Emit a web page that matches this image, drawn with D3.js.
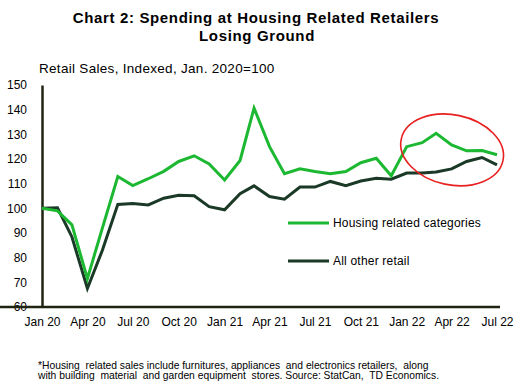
<!DOCTYPE html>
<html>
<head>
<meta charset="utf-8">
<script src="https://cdn.jsdelivr.net/npm/d3@7"></script>
<style>
  body { margin: 0; background: #fff; }
  svg { font-family: "Liberation Sans", Arial, sans-serif; }
</style>
</head>
<body>
<div id="chart"></div>
<script>
// monthly index, Jan 2020 = 100
const months = d3.timeMonths(new Date(2020, 0, 1), new Date(2022, 7, 1));
const housing = [100, 99, 93.3, 71.5, 92, 112.9, 109.2, 112, 115, 119, 121.3, 118, 111.5, 119.4, 140.6,
  125, 114, 116, 114.9, 114, 114.9, 118.5, 120.3, 113.2, 125, 126.6, 130.4, 125.7, 123.3, 123.4, 121.7];
const otherRetail = [100, 100.2, 88.4, 67.5, 83, 101.6, 102, 101.4, 104.1, 105.3, 105.1, 100.7, 99.4, 105.9, 109.1,
  104.8, 103.7, 108.6, 108.6, 110.9, 109.2, 111.1, 112.2, 111.8, 114.3, 114.3, 114.7, 116, 119, 120.6, 117.6];
const yTicks = [60, 70, 80, 90, 100, 110, 120, 130, 140, 150];
const seriesNames = ["Housing related categories", "All other retail"];

const width = 517, height = 386;
const green = "#1db832", dark = "#1a3926";

const svg = d3.select("#chart").append("svg")
  .attr("width", width)
  .attr("height", height);

const x = d3.scaleTime()
  .domain([months[0], months[months.length - 1]])
  .range([42, 497]);
const y = d3.scaleLinear().domain([60, 150]).range([307, 85]);

// titles
svg.append("text").attr("x", 256).attr("y", 23).attr("text-anchor", "middle")
  .style("font-size", "15px").style("font-weight", "bold").style("letter-spacing", "0.65px")
  .text("Chart 2: Spending at Housing Related Retailers");
svg.append("text").attr("x", 257).attr("y", 41).attr("text-anchor", "middle")
  .style("font-size", "15px").style("font-weight", "bold").style("letter-spacing", "0.65px")
  .text("Losing Ground");
svg.append("text").attr("x", 39).attr("y", 73)
  .style("font-size", "13.5px").style("letter-spacing", "0.3px")
  .text("Retail Sales, Indexed,  Jan. 2020=100");

// axes
const yAxis = svg.append("g")
  .attr("transform", "translate(42,0)")
  .call(d3.axisLeft(y).tickValues(yTicks).tickSize(0).tickSizeOuter(0).tickPadding(15));
const xAxis = svg.append("g")
  .attr("transform", "translate(0,307)")
  .call(d3.axisBottom(x)
    .tickValues(months.filter((d, i) => i % 3 === 0))
    .tickFormat(d3.timeFormat("%b %y"))
    .tickSize(0).tickSizeOuter(0).tickPadding(10));
xAxis.select(".domain").attr("d", "M0,0H500");
[yAxis, xAxis].forEach(g => {
  g.select(".domain").attr("stroke", "#1f2412").attr("stroke-width", 2.5);
  g.selectAll("text").style("font-size", "12px").attr("fill", "#000");
  g.attr("font-family", null);
});

// lines
const line = d3.line().x((d, i) => x(months[i])).y(d => y(d));
svg.append("path").datum(otherRetail)
  .attr("fill", "none").attr("stroke", dark).attr("stroke-width", 3)
  .attr("d", line);
svg.append("path").datum(housing)
  .attr("fill", "none").attr("stroke", green).attr("stroke-width", 3)
  .attr("d", line);

// red ellipse annotation around 2022
const cx = x(new Date(2022, 3, 2)), cy = y(123.7);
svg.append("ellipse")
  .attr("cx", cx).attr("cy", cy).attr("rx", 52).attr("ry", 35)
  .attr("transform", `rotate(12,${cx},${cy})`)
  .attr("fill", "none").attr("stroke", "#e8201f").attr("stroke-width", 1.6);

// legend
const legend = svg.append("g").selectAll("g")
  .data(seriesNames)
  .enter().append("g")
  .attr("transform", (d, i) => `translate(288,${223 + i * 38})`);
legend.append("line")
  .attr("x1", 0).attr("x2", 41)
  .attr("stroke", (d, i) => i === 0 ? green : dark)
  .attr("stroke-width", 3);
legend.append("text")
  .attr("x", 45).attr("dy", "0.35em")
  .style("font-size", "12px").style("letter-spacing", "0.2px")
  .text(d => d);

// footnote
const notes = ["*Housing  related sales include furnitures, appliances  and electronics retailers,  along",
  "with building  material  and garden equipment  stores. Source: StatCan,  TD Economics."];
svg.append("g").selectAll("text")
  .data(notes)
  .enter().append("text")
  .attr("x", 38).attr("y", (d, i) => 368.5 + i * 10.5)
  .style("font-size", "10.3px").style("white-space", "pre")
  .text(d => d);
</script>
</body>
</html>
